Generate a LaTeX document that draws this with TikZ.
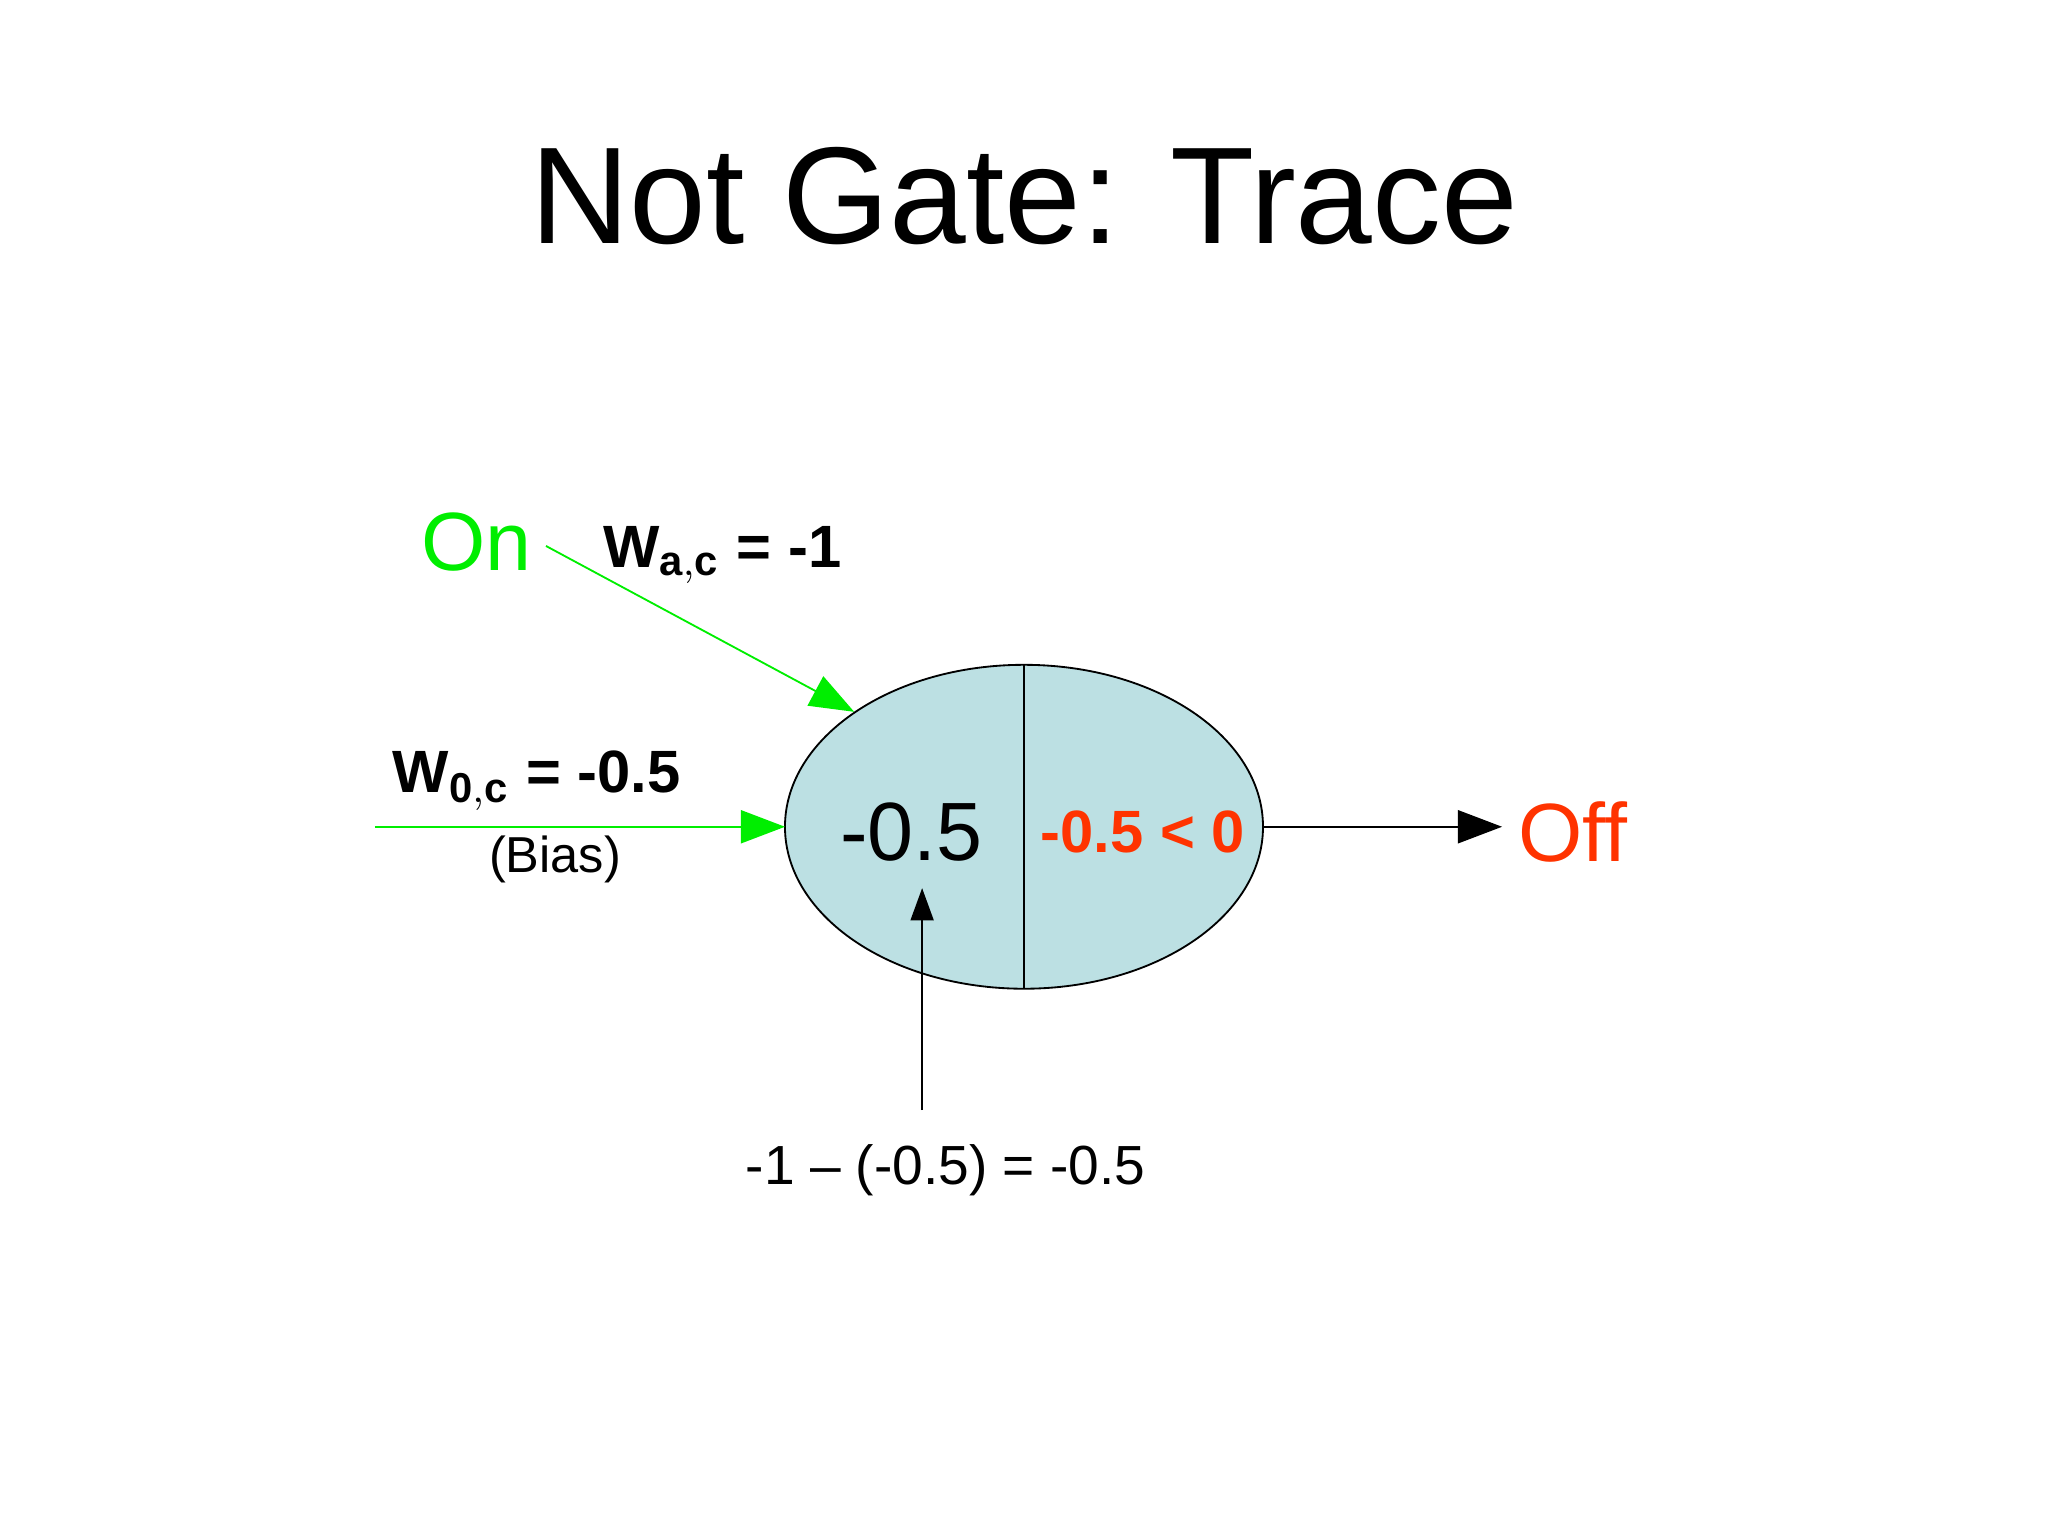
\documentclass[tikz,border=0pt]{standalone}
\usepackage{fontspec}
\setmainfont{Liberation Sans}
\usetikzlibrary{arrows.meta}
\definecolor{cellblue}{HTML}{BCE0E3}
\definecolor{ongreen}{HTML}{00EE00}
\definecolor{offred}{HTML}{FF3300}
\begin{document}
\begin{tikzpicture}[x=0.01cm,y=-0.01cm,
  tip/.style={-{Triangle[length=9.6pt,width=7.2pt]}},
  lbl/.style={inner sep=0pt}]
\useasboundingbox (0,0) rectangle (1568,1176);
\node[lbl] (title) at (784,150) {\fontsize{30}{36}\selectfont Not Gate: Trace};
\path[draw,fill=cellblue] (784,633) ellipse [x radius=183,y radius=124];
\coordinate (ctop) at (784,509);
\coordinate (cbot) at (784,757);
\coordinate (cleft) at (601,633);
\coordinate (cright) at (967,633);
\draw (ctop) -- (cbot);
\node[lbl] (sum) at (698,637) {\fontsize{18}{22}\selectfont -0.5};
\node[lbl,text=offred] (cmp) at (875,637) {\fontsize{13}{16}\selectfont\bfseries -0.5 < 0};
\node[lbl,text=offred,anchor=west] (off) at (1162,637) {\fontsize{18}{22}\selectfont Off};
\coordinate (offend) at (1150,633);
\draw[tip] (cright) -- (offend);
\node[lbl] (on) at (365,415) {\color{ongreen}\fontsize{18}{22}\selectfont On};
\coordinate (onstart) at (418,418);
\coordinate (onend) at (654,545);
\draw[ongreen,tip] (onstart) -- (onend);
\coordinate (biasstart) at (287,633);
\draw[ongreen,tip] (biasstart) -- (cleft);
\node[lbl] (wac) at (553,425) {\fontsize{13}{16}\selectfont\bfseries W$_{\mathbf{a,c}}$ = -1};
\node[lbl] (w0c) at (411,598) {\fontsize{13}{16}\selectfont\bfseries W$_{\mathbf{0,c}}$ = -0.5};
\node[lbl] (bias) at (425,658) {\fontsize{11}{14}\selectfont (Bias)};
\coordinate (calcstart) at (706,850);
\coordinate (calcend) at (706,680);
\draw[-{Triangle[length=7pt,width=5pt]}] (calcstart) -- (calcend);
\node[lbl] (calc) at (724,896) {\fontsize{12}{15}\selectfont -1 – (-0.5) = -0.5};
\end{tikzpicture}
\end{document}
